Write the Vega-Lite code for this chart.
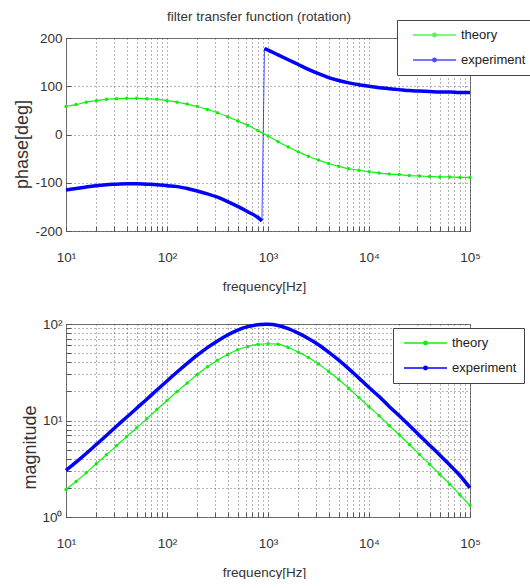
{
  "$schema": "https://vega.github.io/schema/vega-lite/v6.json",
  "background": "white",
  "padding": {"left": 12, "top": 9, "right": 0, "bottom": 0},
  "spacing": 93,
  "bounds": "flush",
  "config": {
    "font": "Liberation Sans",
    "view": {"stroke": "#777", "strokeWidth": 1},
    "axis": {
      "labelFont": "Liberation Sans",
      "labelFontSize": 13.5,
      "labelColor": "#333",
      "titleFont": "Liberation Sans",
      "titleFontSize": 13.5,
      "titleFontWeight": "normal",
      "titleColor": "#333",
      "grid": true,
      "gridColor": "#444",
      "gridDash": [1, 3],
      "gridOpacity": 0.8,
      "domain": false,
      "ticks": true,
      "tickColor": "#555",
      "tickSize": -5,
      "labelOverlap": false,
      "labelFlush": false,
      "labelBound": false
    },
    "legend": {
      "orient": "none",
      "symbolType": "M-1,0H1M-0.08,0A0.08,0.08,0,1,1,0.08,0A0.08,0.08,0,1,1,-0.08,0Z",
      "symbolSize": 1849,
      "symbolStrokeWidth": 1.5,
      "clipHeight": 16,
      "labelFont": "Liberation Sans",
      "labelFontSize": 13,
      "labelColor": "#222",
      "padding": 7,
      "rowPadding": 9,
      "symbolOffset": 8,
      "labelOffset": 4,
      "strokeColor": "#444",
      "fillColor": "white"
    }
  },
  "resolve": {"scale": {"color": "independent"}},
  "datasets": {
    "d": [
      {"f": 10, "s": "theory", "ph": 58, "mg": 1.93},
      {"f": 12.59, "s": "theory", "ph": 62, "mg": 2.33},
      {"f": 15.85, "s": "theory", "ph": 67, "mg": 2.87},
      {"f": 19.95, "s": "theory", "ph": 70, "mg": 3.56},
      {"f": 25.12, "s": "theory", "ph": 73, "mg": 4.41},
      {"f": 31.62, "s": "theory", "ph": 74, "mg": 5.47},
      {"f": 39.81, "s": "theory", "ph": 75, "mg": 6.78},
      {"f": 50.12, "s": "theory", "ph": 75, "mg": 8.39},
      {"f": 63.1, "s": "theory", "ph": 74, "mg": 10.4},
      {"f": 79.43, "s": "theory", "ph": 73, "mg": 13.0},
      {"f": 100, "s": "theory", "ph": 70, "mg": 16.1},
      {"f": 125.9, "s": "theory", "ph": 67, "mg": 20.0},
      {"f": 158.5, "s": "theory", "ph": 63, "mg": 24.5},
      {"f": 199.5, "s": "theory", "ph": 58, "mg": 30.0},
      {"f": 251.2, "s": "theory", "ph": 52, "mg": 36.0},
      {"f": 316.2, "s": "theory", "ph": 45, "mg": 42.2},
      {"f": 398.1, "s": "theory", "ph": 37, "mg": 48.3},
      {"f": 501.2, "s": "theory", "ph": 28, "mg": 54.1},
      {"f": 631, "s": "theory", "ph": 19, "mg": 58.5},
      {"f": 794.3, "s": "theory", "ph": 8, "mg": 61.4},
      {"f": 1000, "s": "theory", "ph": -3, "mg": 62.4},
      {"f": 1259, "s": "theory", "ph": -15, "mg": 61.8},
      {"f": 1585, "s": "theory", "ph": -26, "mg": 57.1},
      {"f": 1995, "s": "theory", "ph": -36, "mg": 51.1},
      {"f": 2512, "s": "theory", "ph": -45, "mg": 45.0},
      {"f": 3162, "s": "theory", "ph": -53, "mg": 38.6},
      {"f": 3981, "s": "theory", "ph": -60, "mg": 32.2},
      {"f": 5012, "s": "theory", "ph": -66, "mg": 26.6},
      {"f": 6310, "s": "theory", "ph": -71, "mg": 21.6},
      {"f": 7943, "s": "theory", "ph": -74, "mg": 17.3},
      {"f": 10000, "s": "theory", "ph": -77, "mg": 13.9},
      {"f": 12590, "s": "theory", "ph": -80, "mg": 11.2},
      {"f": 15850, "s": "theory", "ph": -82, "mg": 8.87},
      {"f": 19950, "s": "theory", "ph": -83, "mg": 7.11},
      {"f": 25120, "s": "theory", "ph": -85, "mg": 5.64},
      {"f": 31620, "s": "theory", "ph": -86, "mg": 4.45},
      {"f": 39810, "s": "theory", "ph": -87, "mg": 3.52},
      {"f": 50120, "s": "theory", "ph": -88, "mg": 2.78},
      {"f": 63100, "s": "theory", "ph": -88, "mg": 2.19},
      {"f": 79430, "s": "theory", "ph": -89, "mg": 1.70},
      {"f": 100000, "s": "theory", "ph": -89, "mg": 1.32},
      {"f": 10, "s": "experiment", "seg": "a", "ph": -115, "mg": 3.05},
      {"f": 12.59, "s": "experiment", "seg": "a", "ph": -112, "mg": 3.70},
      {"f": 15.85, "s": "experiment", "seg": "a", "ph": -109, "mg": 4.55},
      {"f": 19.95, "s": "experiment", "seg": "a", "ph": -106, "mg": 5.64},
      {"f": 25.12, "s": "experiment", "seg": "a", "ph": -104, "mg": 7.0},
      {"f": 31.62, "s": "experiment", "seg": "a", "ph": -103, "mg": 8.71},
      {"f": 39.81, "s": "experiment", "seg": "a", "ph": -102, "mg": 10.8},
      {"f": 50.12, "s": "experiment", "seg": "a", "ph": -102, "mg": 13.4},
      {"f": 63.1, "s": "experiment", "seg": "a", "ph": -103, "mg": 16.6},
      {"f": 79.43, "s": "experiment", "seg": "a", "ph": -104, "mg": 20.7},
      {"f": 100, "s": "experiment", "seg": "a", "ph": -106, "mg": 25.7},
      {"f": 125.9, "s": "experiment", "seg": "a", "ph": -108, "mg": 31.8},
      {"f": 158.5, "s": "experiment", "seg": "a", "ph": -112, "mg": 39.1},
      {"f": 199.5, "s": "experiment", "seg": "a", "ph": -117, "mg": 47.6},
      {"f": 251.2, "s": "experiment", "seg": "a", "ph": -123, "mg": 57.0},
      {"f": 316.2, "s": "experiment", "seg": "a", "ph": -130, "mg": 66.8},
      {"f": 398.1, "s": "experiment", "seg": "a", "ph": -139, "mg": 76.9},
      {"f": 501.2, "s": "experiment", "seg": "a", "ph": -149, "mg": 86.5},
      {"f": 631, "s": "experiment", "seg": "a", "ph": -160, "mg": 93.8},
      {"f": 794.3, "s": "experiment", "seg": "a", "ph": -172, "mg": 98.4},
      {"f": 871, "s": "experiment", "seg": "a", "ph": -179, "mg": 98.9},
      {"f": 923, "s": "experiment", "seg": "b", "ph": 178, "mg": 99.3},
      {"f": 1000, "s": "experiment", "seg": "b", "ph": 175, "mg": 99.5},
      {"f": 1259, "s": "experiment", "seg": "b", "ph": 165, "mg": 96.6},
      {"f": 1585, "s": "experiment", "seg": "b", "ph": 155, "mg": 89.5},
      {"f": 1995, "s": "experiment", "seg": "b", "ph": 145, "mg": 80.4},
      {"f": 2512, "s": "experiment", "seg": "b", "ph": 135, "mg": 70.8},
      {"f": 3162, "s": "experiment", "seg": "b", "ph": 126, "mg": 61.0},
      {"f": 3981, "s": "experiment", "seg": "b", "ph": 118, "mg": 51.1},
      {"f": 5012, "s": "experiment", "seg": "b", "ph": 112, "mg": 42.2},
      {"f": 6310, "s": "experiment", "seg": "b", "ph": 107, "mg": 34.3},
      {"f": 7943, "s": "experiment", "seg": "b", "ph": 103, "mg": 27.5},
      {"f": 10000, "s": "experiment", "seg": "b", "ph": 100, "mg": 22.0},
      {"f": 12590, "s": "experiment", "seg": "b", "ph": 97, "mg": 17.7},
      {"f": 15850, "s": "experiment", "seg": "b", "ph": 95, "mg": 14.0},
      {"f": 19950, "s": "experiment", "seg": "b", "ph": 93, "mg": 11.2},
      {"f": 25120, "s": "experiment", "seg": "b", "ph": 91, "mg": 8.87},
      {"f": 31620, "s": "experiment", "seg": "b", "ph": 90, "mg": 7.01},
      {"f": 39810, "s": "experiment", "seg": "b", "ph": 89, "mg": 5.55},
      {"f": 50120, "s": "experiment", "seg": "b", "ph": 88, "mg": 4.39},
      {"f": 63100, "s": "experiment", "seg": "b", "ph": 88, "mg": 3.45},
      {"f": 79430, "s": "experiment", "seg": "b", "ph": 87, "mg": 2.69},
      {"f": 100000, "s": "experiment", "seg": "b", "ph": 87, "mg": 2.0}
    ]
  },
  "vconcat": [
    {
      "width": 404,
      "height": 193,
      "title": {"text": "filter transfer function (rotation)", "fontSize": 13.5, "fontWeight": "normal", "font": "Liberation Sans", "color": "#333", "baseline": "alphabetic", "offset": -15, "dx": -9},
      "data": {"name": "d"},
      "encoding": {
        "x": {
          "field": "f", "type": "quantitative",
          "scale": {"type": "log", "domain": [10, 100000], "nice": false},
          "axis": {
            "values": [10,20,30,40,50,60,70,80,90,100,200,300,400,500,600,700,800,900,1000,2000,3000,4000,5000,6000,7000,8000,9000,10000,20000,30000,40000,50000,60000,70000,80000,90000,100000],
            "labelExpr": "datum.value==10?'10¹':datum.value==100?'10²':datum.value==1000?'10³':datum.value==10000?'10⁴':datum.value==100000?'10⁵':''",
            "labelBaseline": "middle",
            "labelPadding": 31,
            "title": "frequency[Hz]",
            "titleX": 198, "titleY": 59, "titleBaseline": "alphabetic", "titleAlign": "center"
          }
        },
        "y": {
          "field": "ph", "type": "quantitative",
          "scale": {"domain": [-200, 200], "nice": false},
          "axis": {
            "values": [-200, -100, 0, 100, 200],
            "labelExpr": "datum.value + ''",
            "labelPadding": 9,
            "title": "phase[deg]",
            "titleFontSize": 18,
            "titleAngle": 270, "titleX": -44, "titleY": 106, "titleBaseline": "middle", "titleAlign": "center"
          }
        },
        "color": {
          "field": "s", "type": "nominal",
          "scale": {"domain": ["theory", "experiment"], "range": ["#10f010", "#0000ff"]},
          "legend": {"title": null, "orient": "none", "legendX": 331, "legendY": -18}
        }
      },
      "layer": [
        {"transform": [{"filter": "datum.s == 'experiment'"}], "mark": {"type": "line", "strokeWidth": 1, "opacity": 0.7}, "encoding": {}},
        {"transform": [{"filter": "datum.s == 'experiment'"}], "mark": {"type": "line", "strokeWidth": 3.5, "interpolate": "monotone"}, "encoding": {"detail": {"field": "seg"}}},
        {"transform": [{"filter": "datum.s == 'theory'"}], "mark": {"type": "line", "strokeWidth": 1.2, "interpolate": "monotone"}, "encoding": {}},
        {"transform": [{"filter": "datum.s == 'theory'"}], "mark": {"type": "point", "filled": true, "size": 12, "opacity": 1}, "encoding": {}}
      ]
    },
    {
      "width": 404,
      "height": 193,
      "data": {"name": "d"},
      "encoding": {
        "x": {
          "field": "f", "type": "quantitative",
          "scale": {"type": "log", "domain": [10, 100000], "nice": false},
          "axis": {
            "values": [10,20,30,40,50,60,70,80,90,100,200,300,400,500,600,700,800,900,1000,2000,3000,4000,5000,6000,7000,8000,9000,10000,20000,30000,40000,50000,60000,70000,80000,90000,100000],
            "labelExpr": "datum.value==10?'10¹':datum.value==100?'10²':datum.value==1000?'10³':datum.value==10000?'10⁴':datum.value==100000?'10⁵':''",
            "labelBaseline": "middle",
            "labelPadding": 31,
            "title": "frequency[Hz]",
            "titleX": 198, "titleY": 59, "titleBaseline": "alphabetic", "titleAlign": "center"
          }
        },
        "y": {
          "field": "mg", "type": "quantitative",
          "scale": {"type": "log", "domain": [1, 100], "nice": false},
          "axis": {
            "values": [1,2,3,4,5,6,7,8,9,10,20,30,40,50,60,70,80,90,100],
            "labelExpr": "datum.value==1?'10⁰':datum.value==10?'10¹':datum.value==100?'10²':''",
            "labelPadding": 9,
            "title": "magnitude",
            "titleFontSize": 18,
            "titleAngle": 270, "titleX": -36, "titleY": 123, "titleBaseline": "middle", "titleAlign": "center"
          }
        },
        "color": {
          "field": "s", "type": "nominal",
          "scale": {"domain": ["theory", "experiment"], "range": ["#10f010", "#0000ff"]},
          "legend": {"title": null, "orient": "none", "legendX": 327, "legendY": 4, "symbolOffset": 3}
        }
      },
      "layer": [
        {"transform": [{"filter": "datum.s == 'experiment'"}], "mark": {"type": "line", "strokeWidth": 3.5, "interpolate": "monotone"}, "encoding": {}},
        {"transform": [{"filter": "datum.s == 'theory'"}], "mark": {"type": "line", "strokeWidth": 1.2, "interpolate": "monotone"}, "encoding": {}},
        {"transform": [{"filter": "datum.s == 'theory'"}], "mark": {"type": "point", "filled": true, "size": 12, "opacity": 1}, "encoding": {}}
      ]
    }
  ]
}
